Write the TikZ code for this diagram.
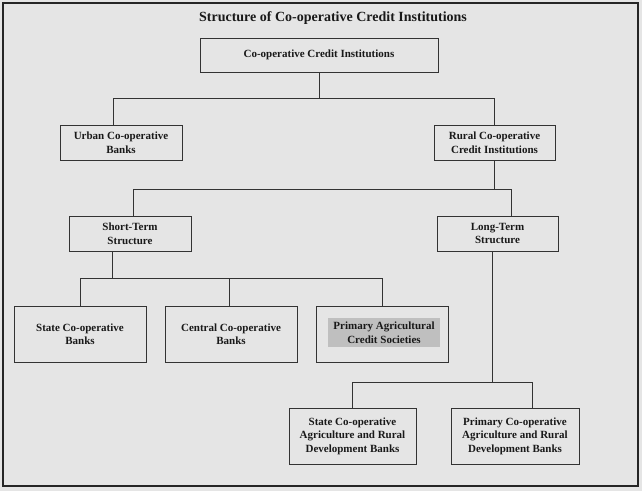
\documentclass[tikz,border=0pt]{standalone}
\usepackage{fontspec}
\setmainfont{Liberation Serif}

\begin{document}
\begin{tikzpicture}[x=1pt,y=-1pt,
	box/.style={draw=black!80, line width=1pt, align=center, inner sep=0pt, text=black!90,
		font=\bfseries\fontsize{11}{13.5}\selectfont},
	link/.style={draw=black!80, line width=1pt}]
	\fill[black!10] (0,0) rectangle (642,491);
	\draw[line width=2pt, black!85] (3,3) rectangle (638,486);
	\node[font=\bfseries\fontsize{14}{16}\selectfont, text=black!90] (title) at (333,18) {Structure of Co-operative Credit Institutions};
	\begin{scope}[every node/.style={box}]
		\node[minimum width=238, minimum height=34] (cci) at (319,55) {Co-operative Credit Institutions};
		\node[minimum width=122, minimum height=35] (urban) at (121,142.5) {Urban Co-operative\\Banks};
		\node[minimum width=121, minimum height=35] (rural) at (494.5,142.5) {Rural Co-operative\\Credit Institutions};
		\node[minimum width=122, minimum height=35] (short) at (130,233.5) {Short-Term\\Structure};
		\node[minimum width=121, minimum height=35] (long) at (497.5,233.5) {Long-Term\\Structure};
		\node[minimum width=132, minimum height=56] (scb) at (80,334) {State Co-operative\\Banks};
		\node[minimum width=132, minimum height=56] (ccb) at (231,334) {Central Co-operative\\Banks};
		\node[minimum width=132, minimum height=56] (pacs) at (382,334) {};
		\node[minimum width=127, minimum height=56] (scard) at (352.5,436) {State Co-operative\\Agriculture and Rural\\Development Banks};
		\node[minimum width=128, minimum height=56] (pcard) at (515,436) {Primary Co-operative\\Agriculture and Rural\\Development Banks};
	\end{scope}
	% shaded label inside the PACS box
	\node[box, draw=none, fill=black!25, minimum width=112, minimum height=29] (pacstext) at (384,332.5) {Primary Agricultural\\Credit Societies};
	\draw[link] (cci.south) -- ++(0,26) coordinate (j1);
	\draw[link] ([xshift=-8pt]urban.north) |- (j1) -| (rural.north);
	\draw[link] (rural.south) -- ++(0,29) coordinate (j2);
	\draw[link] ([xshift=3pt]short.north) |- (j2) -| ([xshift=14pt]long.north);
	\draw[link] ([xshift=-18pt]short.south) -- ++(0,27) coordinate (j3);
	\draw[link] (scb.north) |- (j3) -| (pacs.north);
	\draw[link] ([xshift=-2pt]ccb.north) -- ([xshift=-2pt]ccb.north |- j3);
	\draw[link] ([xshift=-5.5pt]long.south) -- ++(0,131) coordinate (j4);
	\draw[link] (scard.north) |- (j4) -| ([xshift=17pt]pcard.north);
\end{tikzpicture}
\end{document}
